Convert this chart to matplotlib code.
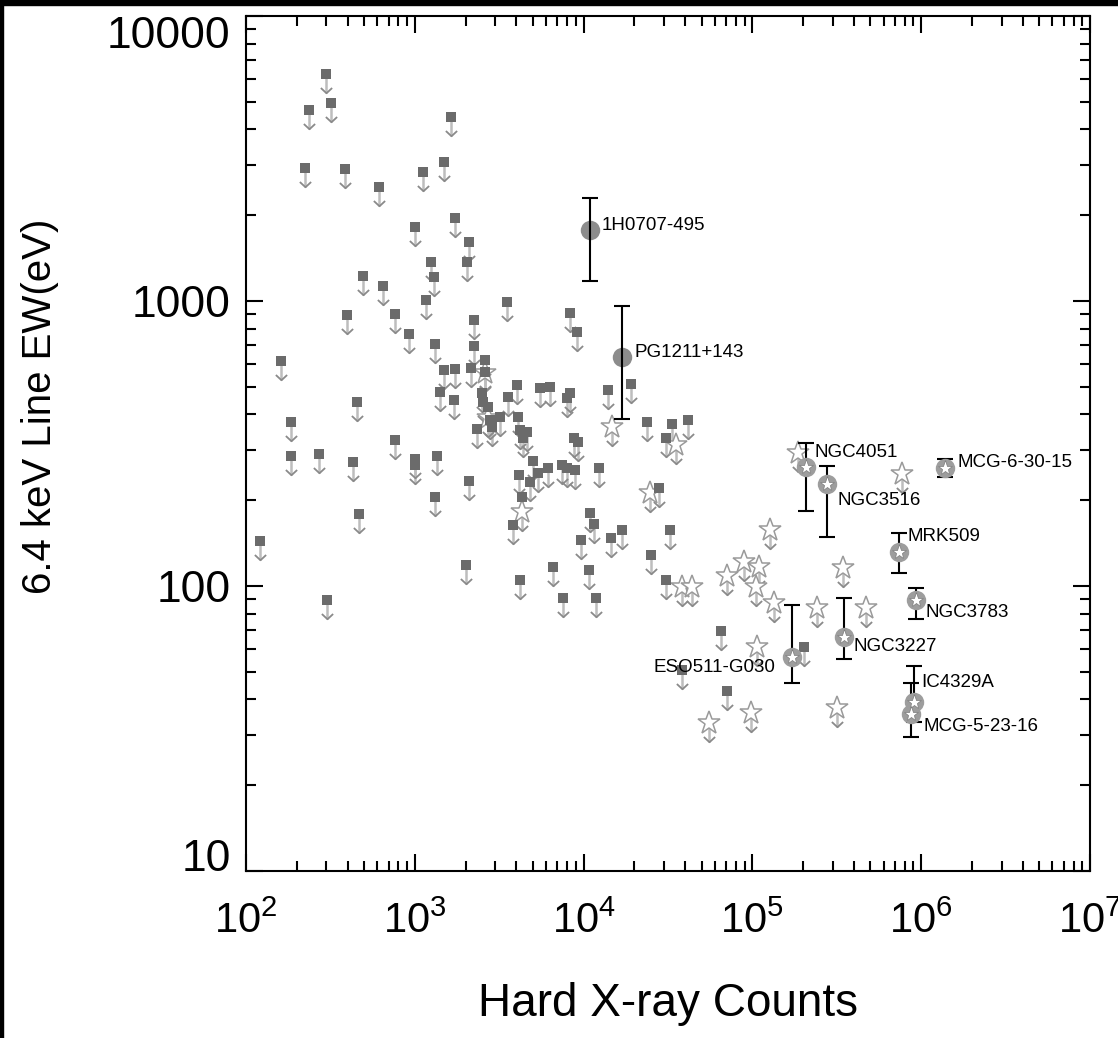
import matplotlib
matplotlib.use("Agg")
import matplotlib.pyplot as plt
from matplotlib.path import Path
from matplotlib.patches import Rectangle
from matplotlib.ticker import NullFormatter, LogLocator

plt.rcParams['font.family'] = ['Liberation Sans', 'DejaVu Sans']
plt.rcParams['mathtext.fontset'] = 'custom'
plt.rcParams['mathtext.rm'] = 'Liberation Sans'
plt.rcParams['mathtext.default'] = 'regular'

# upper limits, non-detections (grey squares)
sq_counts = [297, 236, 318, 1630, 223, 385, 612, 1115, 1500, 1000,
             1720, 2090, 2030, 1240, 1300, 492, 647, 1160, 396, 762,
             921, 1310, 2240, 2240, 161, 185, 185, 270, 430, 454,
             466, 762, 1010, 1000, 1350, 1310, 2110, 2000, 121, 301,
             1500, 1720, 2140, 1420, 1700, 2330, 2600, 2600, 2490, 2520,
             2700, 2780, 2850, 3180, 3550, 4070, 4180, 4600, 4350, 4010,
             5490, 6290, 8260, 7930, 8720, 9210, 4990, 5340, 4790, 4120,
             6120, 7410, 7930, 8850, 12270, 4300, 3800, 10860, 11460, 9600,
             14450, 17000, 6560, 10700, 4180, 7510, 11780, 13870, 19230, 23920,
             33630, 41800, 30990, 28180, 25250, 32730, 30990, 65600, 71100, 203000,
             38500, 3500, 8260, 9100]
sq_ew = [6250, 4680, 4950, 4420, 2930, 2900, 2510, 2840, 3070, 1820,
         1950, 1610, 1370, 1370, 1210, 1220, 1130, 1010, 893, 900,
         766, 706, 858, 695, 615, 376, 286, 290, 272, 442,
         179, 325, 279, 266, 286, 205, 233, 118, 144, 89,
         573, 577, 582, 479, 450, 356, 621, 564, 475, 442,
         425, 382, 361, 392, 461, 392, 353, 347, 330, 507,
         495, 499, 475, 457, 330, 320, 275, 249, 232, 245,
         259, 266, 259, 255, 259, 205, 164, 180, 165, 145,
         147, 157, 117, 114, 105, 91, 91, 487, 511, 376,
         370, 382, 330, 221, 128, 157, 105, 69.5, 42.8, 61.1,
         50.7, 991, 908, 778]

# upper limits (open stars)
st_counts = [14650, 35500, 24600, 4300, 2600, 2700, 38500, 44200, 128000, 89700,
             110000, 71100, 105600, 135000, 243000, 473000, 345000, 772000, 187000, 107000,
             55700, 98600, 318000]
st_ew = [361, 313, 212, 182, 560, 388, 99, 99, 157, 121,
         117, 108, 99, 87.2, 83.7, 83.7, 116, 247, 293, 61.1,
         33.1, 35.8, 37.3]

# detections (star in grey circle)
det_names = ['NGC4051', 'NGC3516', 'MRK509', 'NGC3783', 'NGC3227',
             'IC4329A', 'MCG-5-23-16', 'MCG-6-30-15', 'ESO511-G030']
det_counts = [209000, 278000, 741000, 934000, 350000, 910000, 873000, 1390000, 172000]
det_ew = [262, 228, 132, 89.3, 66.2, 39.2, 35.6, 259, 56.4]
det_lo = [183, 149, 111, 76.6, 55.5, 33.3, 29.5, 241, 45.7]
det_hi = [318, 264, 153, 98.4, 90.8, 52.4, 45.7, 279, 85.8]

# detections (filled grey circles)
ci_names = ['1H0707-495', 'PG1211+143']
ci_counts = [10860, 17000]
ci_ew = [1775, 637]
ci_lo = [1175, 385]
ci_hi = [2300, 960]

# label offsets in points
lab_off = {
    '1H0707-495': (9, 3), 'PG1211+143': (9, 3),
    'NGC4051': (6, 10), 'NGC3516': (7, -12), 'MRK509': (6, 11),
    'NGC3783': (7, -9), 'NGC3227': (7, -7), 'IC4329A': (5, 14),
    'MCG-5-23-16': (9, -9), 'MCG-6-30-15': (9, 4), 'ESO511-G030': (-12, -8),
}

fig = plt.figure(figsize=(11.18, 10.38), dpi=100, facecolor='white')
ax = fig.add_axes([0.2200, 0.1609, 0.7549, 0.8237])
ax.set_xscale('log')
ax.set_yscale('log')

# down arrows as markers (tip below the point)
shaft = Path([(0, -0.2), (0, -1.0)], [Path.MOVETO, Path.LINETO])
head = Path([(-0.3, -0.72), (0, -1.0), (0.3, -0.72)],
            [Path.MOVETO, Path.LINETO, Path.LINETO])

def arrows(x, y):
    ax.plot(x, y, ls='none', marker=shaft, ms=27, mfc='none',
            mec='#bdbdbd', mew=1.8, zorder=2)
    ax.plot(x, y, ls='none', marker=head, ms=27, mfc='none',
            mec='#8a8a8a', mew=1.3, zorder=2)

arrows(sq_counts, sq_ew)
arrows(st_counts, st_ew)

ax.plot(st_counts, st_ew, ls='none', marker='*', ms=17, mfc='white',
        mec='#9a9a9a', mew=1.1, zorder=2.5)
ax.plot(sq_counts, sq_ew, ls='none', marker='s', ms=7, mfc='#6b6b6b',
        mew=0, zorder=3)

# filled circle detections
ax.plot(ci_counts, ci_ew, ls='none', marker='o', ms=14, mfc='#8c8c8c',
        mew=0, zorder=3)
ax.errorbar(ci_counts, ci_ew,
            yerr=[[v - l for v, l in zip(ci_ew, ci_lo)],
                  [h - v for v, h in zip(ci_ew, ci_hi)]],
            fmt='none', ecolor='black', elinewidth=1.5, capsize=5.5,
            capthick=1.5, zorder=4)

# star detections
ax.errorbar(det_counts, det_ew,
            yerr=[[v - l for v, l in zip(det_ew, det_lo)],
                  [h - v for v, h in zip(det_ew, det_hi)]],
            fmt='none', ecolor='black', elinewidth=1.5, capsize=5.5,
            capthick=1.5, zorder=4)
ax.plot(det_counts, det_ew, ls='none', marker='o', ms=14, mfc='#9d9d9d',
        mew=0, zorder=5)
ax.plot(det_counts, det_ew, ls='none', marker='*', ms=11, mfc='white',
        mec='#7a7a7a', mew=0.5, zorder=6)

for name, x, y in list(zip(ci_names, ci_counts, ci_ew)) + list(zip(det_names, det_counts, det_ew)):
    dx, dy = lab_off[name]
    ax.annotate(name, (x, y), xytext=(dx, dy), textcoords='offset points',
                ha='right' if dx < 0 else 'left', va='center',
                fontsize=13.5, color='black', zorder=7)

ax.set_xlim(1e2, 1e7)
ax.set_ylim(10, 10000)

ax.xaxis.set_major_locator(LogLocator(base=10, numticks=10))
ax.xaxis.set_minor_locator(LogLocator(base=10, subs=range(2, 10), numticks=20))
ax.xaxis.set_minor_formatter(NullFormatter())
ax.set_yticks([10, 100, 1000, 10000])
ax.set_yticklabels(['10', '100', '1000', '10000'])
ax.yaxis.set_minor_locator(LogLocator(base=10, subs=range(2, 10), numticks=20))
ax.yaxis.set_minor_formatter(NullFormatter())

ax.tick_params(which='both', direction='in', top=True, right=True, width=1.5)
ax.tick_params(which='major', length=12)
ax.tick_params(which='minor', length=7)
ax.tick_params(axis='y', labelsize=32, pad=11)
ax.tick_params(axis='x', labelsize=30, pad=22)
for s in ax.spines.values():
    s.set_linewidth(1.5)

ylabs = ax.get_yticklabels()
ylabs[0].set_va('baseline')
ylabs[-1].set_va('top')

ax.set_xlabel('Hard X-ray Counts', fontsize=33)
ax.xaxis.set_label_coords(0.5, -0.156)
ax.xaxis.label.set_va('center')
ax.set_ylabel('6.4 keV Line EW(eV)', fontsize=29)
ax.yaxis.set_label_coords(-0.244, 0.543)
ax.yaxis.label.set_va('center')

# black frame edges seen in the scan
fig.patches.append(Rectangle((0, 1 - 5 / 1038), 1, 5 / 1038,
                             transform=fig.transFigure, color='black', zorder=10))
fig.patches.append(Rectangle((0, 0), 3 / 1118, 1,
                             transform=fig.transFigure, color='black', zorder=10))

fig.savefig('out.png', dpi=100, facecolor='white')
